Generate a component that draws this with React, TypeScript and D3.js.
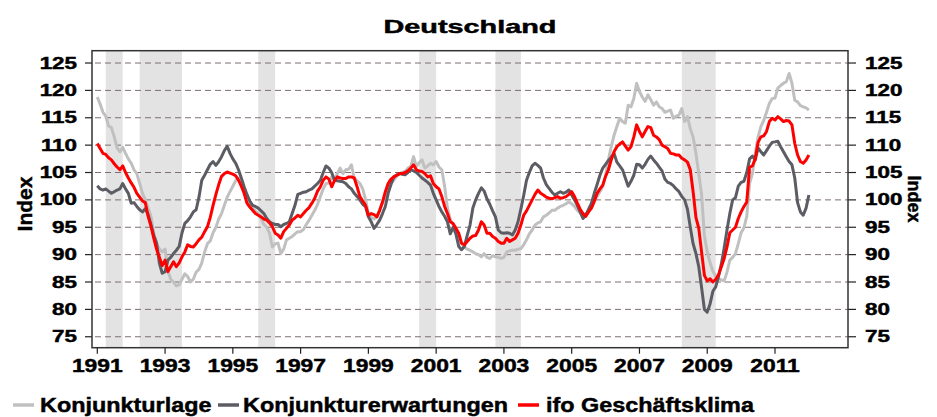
import React from 'react'
import * as d3 from 'd3'

// ifo Geschäftsklima Deutschland, monthly Jan 1991 .. Jan 2012
const title = 'Deutschland'
const startYear = 1991
const yTicks = [75, 80, 85, 90, 95, 100, 105, 110, 115, 120, 125]
const xTickYears = [1991, 1993, 1995, 1997, 1999, 2001, 2003, 2005, 2007, 2009, 2011]
const recessions = [
    [1991.25, 1991.75],
    [1992.25, 1993.5],
    [1995.75, 1996.25],
    [2000.5, 2001.0],
    [2002.75, 2003.5],
    [2008.25, 2009.25],
]

const lage = [
    118.8, 117.5, 116.0, 115.3, 113.5, 113.2, 111.5, 109.5, 108.8, 109.6, 108.5, 107.5,
    106.7, 105.5, 104.8, 103.0, 101.2, 100.0, 98.5, 97.0, 94.0, 92.0, 91.0, 90.5,
    91.0, 87.0, 85.5, 85.0, 84.3, 84.5, 85.5, 86.5, 86.0, 85.0, 85.5, 86.8,
    87.3, 88.5, 90.5, 92.0, 92.5, 94.0, 95.0, 96.5, 97.5, 99.0, 100.5, 101.5,
    102.5, 103.5, 104.0, 103.0, 102.0, 100.5, 99.5, 98.5, 98.0, 97.5, 96.6, 95.5,
    95.0, 93.9, 91.4, 92.0, 92.1, 90.2, 91.0, 92.7, 93.0, 93.3, 93.8, 94.2,
    94.2, 94.6, 95.5, 96.3, 97.2, 98.1, 99.2, 100.6, 102.0, 103.0, 103.1, 104.2,
    103.6, 104.8, 105.8, 104.8, 105.5, 105.6, 106.4, 103.9, 103.5, 103.0, 102.0, 100.0,
    97.5, 96.8, 96.5, 96.9, 98.1, 99.4, 100.8, 102.0, 103.0, 103.6, 104.3, 104.8,
    105.0, 105.2, 105.8, 106.1, 107.9, 106.1, 106.8, 107.3, 105.8, 106.2, 106.7, 106.4,
    107.0, 106.0, 105.5, 102.5, 98.5, 96.5, 95.4, 94.3, 92.9, 92.0, 91.4, 91.0,
    90.8, 90.5, 90.2, 90.0, 89.6, 90.2, 89.5, 89.3, 89.8, 89.6, 89.5, 89.3,
    89.5, 90.5, 90.7, 90.8, 90.8, 91.0, 91.1, 91.8, 92.7, 93.8, 94.5, 95.4,
    95.8, 96.0, 96.9, 97.2, 97.6, 98.1, 98.1, 98.5, 98.8, 99.0, 99.3, 99.6,
    99.3, 98.8, 98.1, 97.6, 97.2, 97.5, 98.0, 99.0, 100.0, 100.6, 101.5, 102.4,
    104.5, 107.3, 109.7, 111.8, 113.4, 114.9, 114.3, 114.0, 117.3, 117.0, 118.5, 121.3,
    119.8, 118.8, 118.0, 119.2, 118.3, 117.3, 117.9, 117.0, 116.7, 116.0, 116.2, 116.4,
    114.9, 115.3, 115.5, 116.7, 114.3, 115.2, 113.0, 111.5, 108.5, 104.8, 101.0, 93.5,
    90.5, 88.5, 87.0, 86.0, 85.6, 85.4, 85.2, 86.8, 89.0, 89.5, 90.2, 92.0,
    94.0, 94.9, 97.0, 103.0, 104.8, 108.5, 111.5, 113.4, 114.5, 116.0, 117.6, 118.5,
    118.6, 120.4, 120.9, 121.3, 121.6, 123.1, 121.3, 118.2, 117.9, 117.2, 117.0, 116.8,
    116.4,
]

const erwartungen = [
    102.6, 102.0, 101.8, 102.0, 101.6, 101.2, 101.5, 101.8, 102.0, 103.0, 102.0, 101.2,
    99.4, 99.5, 98.8, 98.2, 97.8, 98.4, 97.3, 95.5, 93.5, 92.1, 88.4, 86.6,
    86.9, 89.0, 89.5, 90.2, 90.8, 91.5, 94.0, 95.7, 96.2, 96.9, 97.8, 98.2,
    100.5, 103.6, 104.5, 105.5, 106.5, 107.0, 106.3, 107.0, 107.9, 109.0, 109.8, 108.5,
    107.5, 106.7, 105.5, 104.0, 102.4, 101.0, 99.8, 99.0, 98.8, 98.5, 98.0, 97.5,
    96.6, 96.0, 95.7, 95.5, 95.5, 95.1, 95.5, 95.7, 96.0, 97.5, 99.0, 101.0,
    101.2, 101.4, 101.5, 101.8, 102.0, 102.5, 103.0, 103.6, 105.0, 106.2, 105.8, 105.0,
    103.6, 103.5, 103.4, 103.3, 103.0, 102.4, 102.0, 101.2, 100.6, 100.0, 99.2, 98.8,
    96.9, 96.0, 94.8, 95.5, 96.3, 97.5, 98.8, 101.2, 102.8, 104.2, 104.5, 104.8,
    104.7, 104.6, 105.0, 105.5, 105.3, 105.0, 104.5, 104.0, 103.6, 103.2, 102.7, 101.2,
    100.0, 98.8, 97.8, 97.0, 96.0, 93.8, 95.0, 93.8, 91.5, 90.9, 91.5, 93.5,
    95.4, 98.5, 100.0, 101.2, 102.2, 101.6, 100.2, 99.2, 98.0, 96.9, 94.5, 94.0,
    93.9, 94.0, 93.9, 93.6, 94.5, 96.0, 98.3, 100.8, 103.6, 105.0, 106.2, 106.7,
    106.3, 105.8, 104.0, 102.8, 102.1, 101.4, 100.9, 101.2, 101.5, 101.2, 101.4, 101.8,
    100.9, 100.0, 99.0, 97.8, 96.6, 97.2, 98.3, 99.4, 101.2, 102.8, 104.5, 105.8,
    106.5, 107.2, 107.8, 108.5, 106.9, 106.2, 105.5, 104.0, 102.5, 103.4, 104.5, 106.5,
    106.4, 105.8, 106.5, 107.4, 108.0, 107.3, 106.7, 106.0, 105.3, 103.8, 103.2, 103.0,
    102.6, 102.0, 101.5, 100.6, 100.0, 98.3, 95.0, 92.0, 90.2, 87.8, 84.0, 80.0,
    79.5, 81.0, 83.3, 84.1, 86.0, 88.3, 91.2, 94.5, 97.5, 100.0, 100.4, 102.5,
    103.2, 103.4, 105.0, 107.5, 108.0, 107.3, 109.5, 108.8, 108.2, 109.0, 109.8, 110.5,
    110.6, 110.7, 109.7, 108.8, 107.9, 107.0, 106.4, 104.0, 99.5, 97.8, 97.2, 98.5,
    100.9,
]

const klima = [
    110.3, 109.4, 108.5, 108.3, 107.7, 107.3, 106.6, 106.0, 105.5, 106.2, 105.0, 104.0,
    103.1, 102.3, 101.2, 100.5, 99.8, 99.5, 97.0, 95.2, 93.0, 91.0, 89.5, 88.0,
    89.0, 86.9, 87.8, 88.7, 87.8, 88.5, 89.6, 90.5, 91.8, 91.5, 91.4, 92.0,
    92.7, 93.2, 94.2, 95.1, 96.8, 99.0, 101.0, 102.8, 104.3, 104.8, 105.1, 104.9,
    104.7, 104.4, 103.6, 102.5, 101.2, 99.4, 98.7, 98.1, 97.5, 97.2, 96.9, 96.5,
    96.3, 95.8, 95.1, 93.9, 93.6, 93.0, 94.2, 94.8, 95.4, 96.3, 96.7, 97.2,
    96.9, 97.5, 98.1, 98.6, 99.4, 100.3, 101.6, 102.4, 103.6, 104.2, 103.8, 102.4,
    103.5, 104.2, 104.0, 103.9, 103.9, 104.2, 104.2, 104.0, 102.4, 100.6, 99.8, 99.0,
    97.2, 97.5, 97.3, 96.9, 98.1, 99.6, 101.5, 103.0, 103.8, 104.2, 104.5, 104.8,
    104.8, 105.0, 105.3, 105.8, 106.4, 105.5, 105.3, 105.2, 104.8, 104.2, 104.4, 103.0,
    102.4, 102.0, 100.6, 98.8, 97.5, 96.0, 95.7, 94.8, 93.9, 92.1, 91.8, 92.4,
    93.0, 93.4, 93.5, 94.5, 96.0, 95.4, 93.9, 93.9, 93.3, 93.0, 92.4, 92.1,
    92.1, 93.0, 92.4, 92.7, 93.0, 93.9, 95.4, 97.2, 98.0, 99.0, 100.0, 101.0,
    101.8, 101.2, 100.9, 100.5, 100.3, 100.2, 100.4, 100.6, 100.3, 100.4, 100.6, 101.0,
    101.5, 100.6, 99.4, 98.3, 97.5, 97.0, 97.8, 98.5, 99.7, 101.2, 102.0, 102.7,
    104.3, 105.5, 107.3, 108.8, 109.7, 110.2, 110.6, 109.8, 109.1, 109.7, 111.5, 113.7,
    112.5, 111.5, 112.5, 113.4, 113.2, 111.8, 111.5, 111.0, 110.0, 109.7, 109.4, 108.5,
    108.4, 108.2, 108.2, 107.6, 107.3, 106.9, 105.5, 101.5, 96.8, 94.8, 90.5, 86.2,
    85.2, 85.6, 85.0, 85.5, 86.3, 87.8, 89.3, 91.4, 94.0, 94.5, 95.0, 96.6,
    97.8, 98.8, 99.6, 106.0, 106.2, 107.5, 110.5, 111.5, 111.7, 112.5, 114.3, 114.9,
    114.6, 115.2, 114.8, 114.3, 114.5, 114.4, 113.7, 110.3, 108.2, 107.0, 106.7, 107.3,
    108.2,
]

const series = [
    { name: 'Konjunkturlage', values: lage, color: '#c0c0c0' },
    { name: 'Konjunkturerwartungen', values: erwartungen, color: '#5c5c64' },
    { name: 'ifo Geschäftsklima', values: klima, color: '#ff0000' },
]

const width = 937
const height = 417
const plot = { left: 92, right: 848, top: 50.7, bottom: 347.7 }
const font = '"Liberation Sans", Arial, Helvetica, sans-serif'

// text drawn wider and heavier than the font, like the original export
const WideText = ({ x, y, sx, size, anchor = 'start', children }) => (
    <text
        transform={`translate(${x},${y}) scale(${sx},1)`}
        fontFamily={font}
        fontWeight="bold"
        fontSize={size}
        textAnchor={anchor}
        fill="#000"
        stroke="#000"
        strokeWidth={0.45}
    >
        {children}
    </text>
)

const App = () => {
    const x = d3.scaleLinear().domain([1991, 2011]).range([97.3, 775])
    const y = d3.scaleLinear().domain([73, 127.25]).range([plot.bottom, plot.top])

    const line = d3
        .line<number>()
        .x((d, i) => x(startYear + i / 12))
        .y(d => y(d))

    const legendItems = [
        { s: series[0], x0: 13, tx: 40 },
        { s: series[1], x0: 218, tx: 243 },
        { s: series[2], x0: 518, tx: 546 },
    ]

    return (
        <svg
            width={width}
            height={height}
            style={{ position: 'absolute', left: 0, top: 0, background: '#fff' }}
        >
            <WideText x={470} y={33} sx={1.55} size={18.6} anchor="middle">
                {title}
            </WideText>

            {recessions.map(([a, b], i) => (
                <rect
                    key={i}
                    x={x(a)}
                    y={plot.top}
                    width={x(b) - x(a)}
                    height={plot.bottom - plot.top}
                    fill="#e3e3e3"
                />
            ))}

            {yTicks.map(t => (
                <g key={t}>
                    <line
                        x1={plot.left}
                        x2={plot.right}
                        y1={y(t)}
                        y2={y(t)}
                        stroke="#7d6f6f"
                        strokeWidth={1}
                        strokeDasharray="6,4"
                        strokeDashoffset={-3}
                    />
                    <line x1={plot.left - 7} x2={plot.left} y1={y(t)} y2={y(t)} stroke="#222" strokeWidth={1.2} />
                    <line x1={plot.right} x2={plot.right + 8} y1={y(t)} y2={y(t)} stroke="#222" strokeWidth={1.2} />
                    <WideText x={77} y={y(t) + 5.6} sx={1.4} size={16} anchor="end">
                        {t}
                    </WideText>
                    <WideText x={865} y={y(t) + 5.6} sx={1.4} size={16}>
                        {t}
                    </WideText>
                </g>
            ))}

            {series.map(s => (
                <path
                    key={s.name}
                    d={line(s.values)}
                    fill="none"
                    stroke={s.color}
                    strokeWidth={3}
                    strokeLinejoin="round"
                />
            ))}

            <rect
                x={plot.left}
                y={plot.top}
                width={plot.right - plot.left}
                height={plot.bottom - plot.top}
                fill="none"
                stroke="#333"
                strokeWidth={1.5}
            />

            {xTickYears.map(t => (
                <g key={t}>
                    <line x1={x(t)} x2={x(t)} y1={plot.bottom} y2={plot.bottom + 6} stroke="#222" strokeWidth={1.2} />
                    <WideText x={x(t)} y={372} sx={1.27} size={18} anchor="middle">
                        {t}
                    </WideText>
                </g>
            ))}

            <text
                transform="translate(31.5,204) rotate(-90)"
                fontFamily={font}
                fontWeight="bold"
                fontSize={21}
                textAnchor="middle"
                stroke="#000"
                strokeWidth={0.45}
            >
                Index
            </text>
            <text
                transform="translate(907.5,199) rotate(90)"
                fontFamily={font}
                fontWeight="bold"
                fontSize={18}
                textAnchor="middle"
                stroke="#000"
                strokeWidth={0.45}
            >
                Index
            </text>

            {legendItems.map(({ s, x0, tx }) => (
                <g key={s.name}>
                    <line x1={x0} x2={x0 + 21} y1={405} y2={405} stroke={s.color} strokeWidth={3.5} />
                    <WideText x={tx} y={412} sx={1.17} size={20}>
                        {s.name}
                    </WideText>
                </g>
            ))}
        </svg>
    )
}

export default App
